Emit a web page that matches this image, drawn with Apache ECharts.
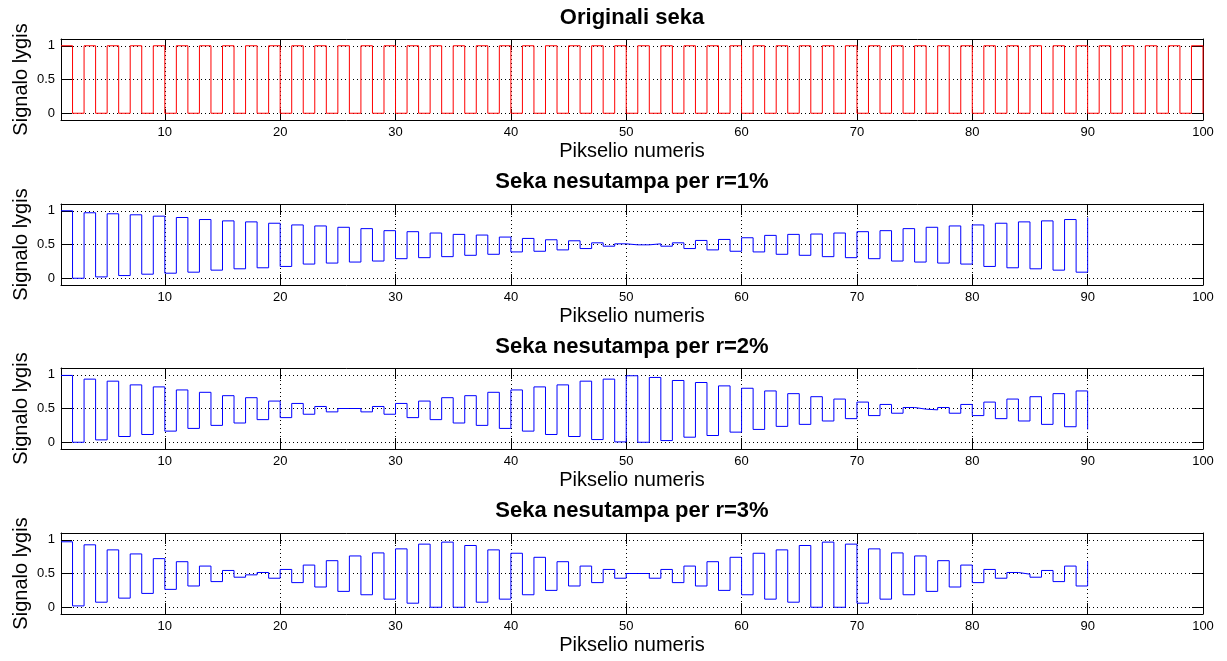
<!DOCTYPE html>
<html>
<head>
<meta charset="utf-8">
<script src="https://cdn.jsdelivr.net/npm/echarts@6/dist/echarts.min.js"></script>
<style>
  html, body { margin: 0; padding: 0; background: #ffffff; }
  #chart { width: 1227px; height: 661px; }
</style>
</head>
<body>
<div id="chart"></div>
<script>
// Original alternating pixel sequence (pixels 1..100)
const originalSignal = [
  1,0,1,0,1,0,1,0,1,0, 1,0,1,0,1,0,1,0,1,0,
  1,0,1,0,1,0,1,0,1,0, 1,0,1,0,1,0,1,0,1,0,
  1,0,1,0,1,0,1,0,1,0, 1,0,1,0,1,0,1,0,1,0,
  1,0,1,0,1,0,1,0,1,0, 1,0,1,0,1,0,1,0,1,0,
  1,0,1,0,1,0,1,0,1,0, 1,0,1,0,1,0,1,0,1,0
];

// Sequence sampled with a 1% pitch mismatch (pixels 1..90)
const mismatch1 = [
  1.00,0.00,0.97,0.02,0.955,0.04,0.94,0.06,0.92,0.075,
  0.90,0.09,0.87,0.12,0.85,0.14,0.835,0.155,0.815,0.175,
  0.79,0.21,0.775,0.225,0.755,0.24,0.735,0.255,0.705,0.29,
  0.69,0.305,0.67,0.32,0.65,0.34,0.64,0.355,0.61,0.39,
  0.59,0.40,0.57,0.42,0.555,0.44,0.525,0.475,0.51,0.495,
  0.495,0.51,0.475,0.525,0.44,0.56,0.42,0.575,0.40,0.60,
  0.39,0.635,0.355,0.65,0.34,0.655,0.32,0.67,0.305,0.69,
  0.29,0.705,0.255,0.735,0.24,0.755,0.225,0.775,0.21,0.79,
  0.175,0.815,0.155,0.835,0.14,0.85,0.12,0.87,0.09,0.90
];

// Sequence sampled with a 2% pitch mismatch (pixels 1..90)
const mismatch2 = [
  0.99,0.00,0.935,0.035,0.905,0.085,0.85,0.115,0.82,0.165,
  0.775,0.205,0.74,0.25,0.69,0.285,0.66,0.335,0.61,0.365,
  0.575,0.415,0.53,0.45,0.50,0.50,0.45,0.53,0.415,0.575,
  0.365,0.61,0.335,0.66,0.285,0.69,0.25,0.74,0.205,0.775,
  0.165,0.82,0.115,0.85,0.085,0.905,0.04,0.935,0.005,0.985,
  0.00,0.96,0.025,0.915,0.075,0.885,0.10,0.835,0.15,0.80,
  0.19,0.76,0.235,0.72,0.265,0.675,0.315,0.64,0.35,0.595,
  0.395,0.56,0.43,0.515,0.49,0.48,0.515,0.43,0.56,0.395,
  0.595,0.35,0.64,0.315,0.675,0.265,0.72,0.23,0.76,0.19
];

// Sequence sampled with a 3% pitch mismatch (pixels 1..90)
const mismatch3 = [
  0.97,0.02,0.925,0.075,0.85,0.135,0.79,0.205,0.72,0.265,
  0.675,0.315,0.61,0.38,0.545,0.445,0.48,0.515,0.43,0.56,
  0.365,0.625,0.30,0.69,0.235,0.76,0.185,0.805,0.12,0.865,
  0.06,0.935,0.00,0.965,0.00,0.915,0.075,0.85,0.12,0.80,
  0.185,0.74,0.25,0.675,0.315,0.61,0.365,0.56,0.43,0.50,
  0.50,0.43,0.56,0.365,0.61,0.315,0.675,0.25,0.74,0.185,
  0.80,0.12,0.85,0.075,0.915,0.00,0.965,0.00,0.935,0.06,
  0.865,0.12,0.805,0.185,0.76,0.235,0.69,0.30,0.625,0.365,
  0.56,0.43,0.515,0.49,0.445,0.545,0.38,0.61,0.315,0.68
];

const panelTitles = [
  'Originali seka',
  'Seka nesutampa per r=1%',
  'Seka nesutampa per r=2%',
  'Seka nesutampa per r=3%'
];
const xTickValues = [10, 20, 30, 40, 50, 60, 70, 80, 90, 100];
const yTickValues = [0, 0.5, 1];
const xAxisTitle = 'Pikselio numeris';
const yAxisTitle = 'Signalo lygis';

const panelSeries = [originalSignal, mismatch1, mismatch2, mismatch3];
const panelColors = ['#ff0000', '#0000ff', '#0000ff', '#0000ff'];

// Layout of the four stacked axes
const FONT = "'Liberation Sans', Arial, Helvetica, sans-serif";
const PLOT_LEFT = 61;
const PLOT_WIDTH = 1142;
const PLOT_TOPS = [39, 204, 368, 533];
const PLOT_HEIGHT = 81;
const TITLE_Y = [17.5, 182, 346.5, 511];

const grids = [], xAxes = [], yAxes = [], series = [], graphics = [];

const dotted = { color: '#000', width: 1, type: [1, 3] };
const frame = { color: '#000', width: 1 };

PLOT_TOPS.forEach((top, i) => {
  grids.push({
    left: PLOT_LEFT, width: PLOT_WIDTH, top: top, height: PLOT_HEIGHT,
    containLabel: false, outerBoundsMode: 'none'
  });

  // bottom x axis with labels and dotted grid
  xAxes.push({
    gridIndex: i, type: 'value', position: 'bottom', min: 1, max: 100,
    axisLine: { show: true, onZero: false, lineStyle: frame },
    axisTick: { show: true, inside: true, length: 11, customValues: xTickValues, lineStyle: frame },
    axisLabel: { show: true, customValues: xTickValues, color: '#000', fontFamily: FONT, fontSize: 13, margin: 6 },
    splitLine: { show: true, lineStyle: dotted },
    name: xAxisTitle, nameLocation: 'middle', nameGap: 21, nameMoveOverlap: false,
    nameTextStyle: { color: '#000', fontFamily: FONT, fontSize: 20 }
  });
  // top x axis: box edge with inward ticks
  xAxes.push({
    gridIndex: i, type: 'value', position: 'top', min: 1, max: 100,
    axisLine: { show: true, onZero: false, lineStyle: frame },
    axisTick: { show: true, inside: true, length: 11, customValues: xTickValues, lineStyle: frame },
    axisLabel: { show: false },
    splitLine: { show: false }
  });

  // left y axis with labels and dotted grid
  yAxes.push({
    gridIndex: i, type: 'value', position: 'left', min: -0.1, max: 1.1,
    axisLine: { show: true, onZero: false, lineStyle: frame },
    axisTick: { show: true, inside: true, length: 11, customValues: yTickValues, lineStyle: frame },
    axisLabel: { show: true, customValues: yTickValues, color: '#000', fontFamily: FONT, fontSize: 13, margin: 6 },
    splitLine: { show: true, lineStyle: dotted },
    name: yAxisTitle, nameLocation: 'middle', nameGap: 30, nameRotate: 90, nameMoveOverlap: false,
    nameTextStyle: { color: '#000', fontFamily: FONT, fontSize: 20 }
  });
  // right y axis: box edge with inward ticks
  yAxes.push({
    gridIndex: i, type: 'value', position: 'right', min: -0.1, max: 1.1,
    axisLine: { show: true, onZero: false, lineStyle: frame },
    axisTick: { show: true, inside: true, length: 11, customValues: yTickValues, lineStyle: frame },
    axisLabel: { show: false },
    splitLine: { show: false }
  });

  // stairs plot: each value holds until the next pixel
  series.push({
    type: 'line', step: 'end',
    xAxisIndex: 2 * i, yAxisIndex: 2 * i,
    data: panelSeries[i].map((v, k) => [k + 1, v]),
    showSymbol: false, symbol: 'none',
    lineStyle: { color: panelColors[i], width: 1 },
    silent: true, animation: false
  });

  graphics.push({
    type: 'text', x: PLOT_LEFT + PLOT_WIDTH / 2, y: TITLE_Y[i],
    style: {
      text: panelTitles[i], fill: '#000',
      font: 'bold 22px ' + FONT,
      textAlign: 'center', textVerticalAlign: 'middle'
    }
  });
});

const chart = echarts.init(document.getElementById('chart'), null, { renderer: 'canvas' });
chart.setOption({
  backgroundColor: '#ffffff',
  animation: false,
  grid: grids,
  xAxis: xAxes,
  yAxis: yAxes,
  series: series,
  graphic: graphics
});
</script>
</body>
</html>
